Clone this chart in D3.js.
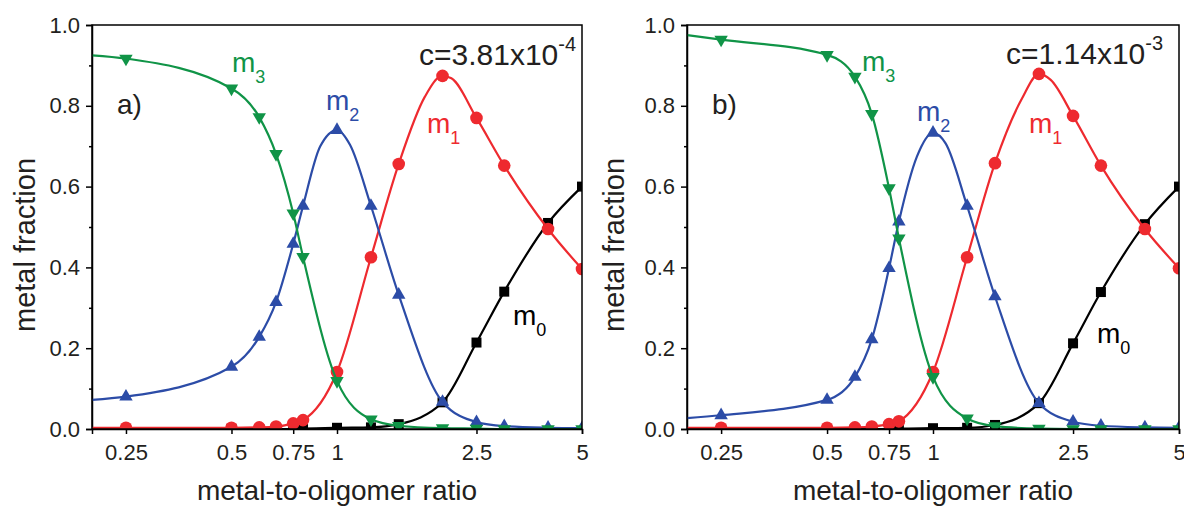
<!DOCTYPE html>
<html>
<head>
<meta charset="utf-8">
<script src="https://cdn.jsdelivr.net/npm/d3@7/dist/d3.min.js"></script>
<style>
  body { margin: 0; background: #fff; }
  svg { font-family: "Liberation Sans", Arial, sans-serif; }
</style>
</head>
<body>
<svg id="chart" width="1184" height="511"></svg>
<script>
// metal-to-oligomer ratios where the markers sit
var ratio = [0.25, 0.5, 0.6, 0.67, 0.75, 0.8, 1, 1.25, 1.5, 2, 2.5, 3, 4, 5];
var xTicks = [0.25, 0.5, 0.75, 1, 2.5, 5];
var yTicks = [0, 0.2, 0.4, 0.6, 0.8, 1.0];
var yMinor = [0.1, 0.3, 0.5, 0.7, 0.9];

// panel a) c = 3.81e-4
var m3A = [0.917, 0.843, 0.772, 0.681, 0.534, 0.426, 0.119, 0.024, 0.008, 0.002, 0.001, 0, 0, 0];
var m2A = [0.080, 0.154, 0.228, 0.314, 0.458, 0.552, 0.740, 0.552, 0.332, 0.067, 0.017, 0.007, 0.003, 0.002];
var m1A = [0.003, 0.003, 0.004, 0.006, 0.014, 0.022, 0.141, 0.425, 0.656, 0.874, 0.770, 0.652, 0.495, 0.396];
var m0A = [0, 0, 0, 0, 0, 0.001, 0.003, 0.004, 0.012, 0.066, 0.214, 0.340, 0.510, 0.600];
// extra points on the fitted lines (no markers)
var m3AKnots = [[0.2, 0.925]];
var m2AKnots = [[0.2, 0.072], [0.895, 0.699], [1.09, 0.703]];
var m1AKnots = [[0.2, 0.003], [1.78, 0.822], [2.12, 0.868]];
var m0AKnots = [[0.2, 0]];

// panel b) c = 1.14e-3
var m3B = [0.964, 0.926, 0.872, 0.780, 0.596, 0.472, 0.129, 0.026, 0.007, 0.001, 0, 0, 0, 0];
var m2B = [0.034, 0.072, 0.129, 0.222, 0.398, 0.513, 0.733, 0.552, 0.328, 0.064, 0.018, 0.008, 0.004, 0.003];
var m1B = [0.003, 0.003, 0.004, 0.006, 0.012, 0.019, 0.141, 0.425, 0.658, 0.879, 0.775, 0.652, 0.495, 0.398];
var m0B = [0, 0, 0, 0, 0, 0.001, 0.002, 0.003, 0.010, 0.064, 0.212, 0.339, 0.507, 0.600];
var m3BKnots = [[0.2, 0.975]];
var m2BKnots = [[0.2, 0.027], [0.90, 0.674], [1.086, 0.707]];
var m1BKnots = [[0.2, 0.003], [1.79, 0.818], [2.16, 0.864]];
var m0BKnots = [[0.2, 0]];

var GREEN = "#109447", BLUE = "#2c4ca7", RED = "#ee2a2f", BLACK = "#000";
var TXT = "#231f20";

var svg = d3.select("#chart");

function lineData(vals, knots) {
	var pts = ratio.map(function(r, i) { return [r, vals[i]]; }).concat(knots);
	pts.sort(function(a, b) { return a[0] - b[0]; });
	return pts;
}

function drawPanel(cfg) {
	var top = 25, bottom = 429;
	var x = d3.scaleLog().domain([0.2, 5]).range([cfg.left, cfg.right]);
	var y = d3.scaleLinear().domain([0, 1]).range([bottom, top]);
	var g = svg.append("g");

	g.append("clipPath").attr("id", "clip" + cfg.id)
		.append("rect")
		.attr("x", cfg.left).attr("y", top)
		.attr("width", cfg.right - cfg.left).attr("height", bottom - top);

	// axes
	g.append("g").attr("transform", "translate(" + cfg.left + ",0)")
		.call(d3.axisLeft(y).tickValues(yTicks).tickFormat(d3.format(".1f")).tickSize(6).tickPadding(6));
	g.append("g").attr("transform", "translate(" + cfg.left + ",0)")
		.call(d3.axisLeft(y).tickValues(yMinor).tickFormat("").tickSize(3))
		.select(".domain").remove();
	g.append("g").attr("transform", "translate(0," + bottom + ")")
		.call(d3.axisBottom(x).tickValues(xTicks).tickFormat(function(d) { return String(d); }).tickSize(5).tickPadding(10));
	g.selectAll(".tick text").attr("font-size", 22).attr("fill", TXT)
		.attr("font-family", "'Liberation Sans', Arial, sans-serif");
	g.selectAll(".tick line").attr("stroke-width", 1.5);
	g.selectAll(".domain").attr("stroke-width", 1.5);

	var plot = g.append("g").attr("clip-path", "url(#clip" + cfg.id + ")");
	var line = d3.line()
		.x(function(d) { return x(d[0]); })
		.y(function(d) { return y(d[1]); })
		.curve(d3.curveMonotoneX);

	cfg.series.forEach(function(s) {
		plot.append("path")
			.attr("d", line(lineData(s.vals, s.knots)))
			.attr("fill", "none").attr("stroke", s.color).attr("stroke-width", 2.2);
		var sym = d3.symbol().type(s.shape).size(s.size);
		plot.selectAll(null).data(ratio.map(function(r, i) { return [r, s.vals[i]]; }))
			.enter().append("path")
			.attr("d", sym)
			.attr("transform", function(d) {
				return "translate(" + x(d[0]) + "," + y(d[1]) + ")" + (s.flip ? " rotate(180)" : "");
			})
			.attr("fill", s.color);
	});

	// frame
	g.append("rect")
		.attr("x", cfg.left).attr("y", top)
		.attr("width", cfg.right - cfg.left).attr("height", bottom - top)
		.attr("fill", "none").attr("stroke", "#000").attr("stroke-width", 1.5);

	// axis titles
	g.append("text")
		.attr("x", (cfg.left + cfg.right) / 2).attr("y", 500)
		.attr("text-anchor", "middle").attr("font-size", 28).attr("fill", TXT)
		.text("metal-to-oligomer ratio");
	g.append("text")
		.attr("transform", "translate(" + cfg.yTitleX + ",245) rotate(-90)")
		.attr("text-anchor", "middle").attr("font-size", 29).attr("fill", TXT)
		.text("metal fraction");

	// panel letter and concentration
	g.append("text").attr("x", cfg.letter[0]).attr("y", cfg.letter[1])
		.attr("font-size", 28).attr("fill", TXT).text(cfg.id + ")");
	var c = g.append("text").attr("x", cfg.conc[0]).attr("y", cfg.conc[1])
		.attr("font-size", 30).attr("fill", TXT);
	c.append("tspan").text(cfg.concText);
	c.append("tspan").attr("dy", -14).attr("font-size", 20).text(cfg.concExp);

	// species labels
	cfg.series.forEach(function(s) {
		var t = g.append("text").attr("x", s.label[0]).attr("y", s.label[1])
			.attr("font-size", 28).attr("fill", s.color);
		t.append("tspan").text("m");
		t.append("tspan").attr("dy", 11).attr("font-size", 18).text(s.sub);
	});
}

drawPanel({
	id: "a", left: 92, right: 582, yTitleX: 35,
	letter: [117, 114], conc: [419, 65], concText: "c=3.81x10", concExp: "-4",
	series: [
		{ vals: m0A, knots: m0AKnots, color: BLACK, shape: d3.symbolSquare, size: 100, sub: "0", label: [513, 325] },
		{ vals: m1A, knots: m1AKnots, color: RED, shape: d3.symbolCircle, size: 125, sub: "1", label: [427, 133] },
		{ vals: m2A, knots: m2AKnots, color: BLUE, shape: d3.symbolTriangle, size: 78, sub: "2", label: [326, 110] },
		{ vals: m3A, knots: m3AKnots, color: GREEN, shape: d3.symbolTriangle, size: 78, flip: true, sub: "3", label: [232, 72] }
	]
});

drawPanel({
	id: "b", left: 687, right: 1179, yTitleX: 624,
	letter: [712, 114], conc: [1006, 64], concText: "c=1.14x10", concExp: "-3",
	series: [
		{ vals: m0B, knots: m0BKnots, color: BLACK, shape: d3.symbolSquare, size: 100, sub: "0", label: [1097, 343] },
		{ vals: m1B, knots: m1BKnots, color: RED, shape: d3.symbolCircle, size: 125, sub: "1", label: [1029, 133] },
		{ vals: m2B, knots: m2BKnots, color: BLUE, shape: d3.symbolTriangle, size: 78, sub: "2", label: [917, 121] },
		{ vals: m3B, knots: m3BKnots, color: GREEN, shape: d3.symbolTriangle, size: 78, flip: true, sub: "3", label: [862, 71] }
	]
});
</script>
</body>
</html>
